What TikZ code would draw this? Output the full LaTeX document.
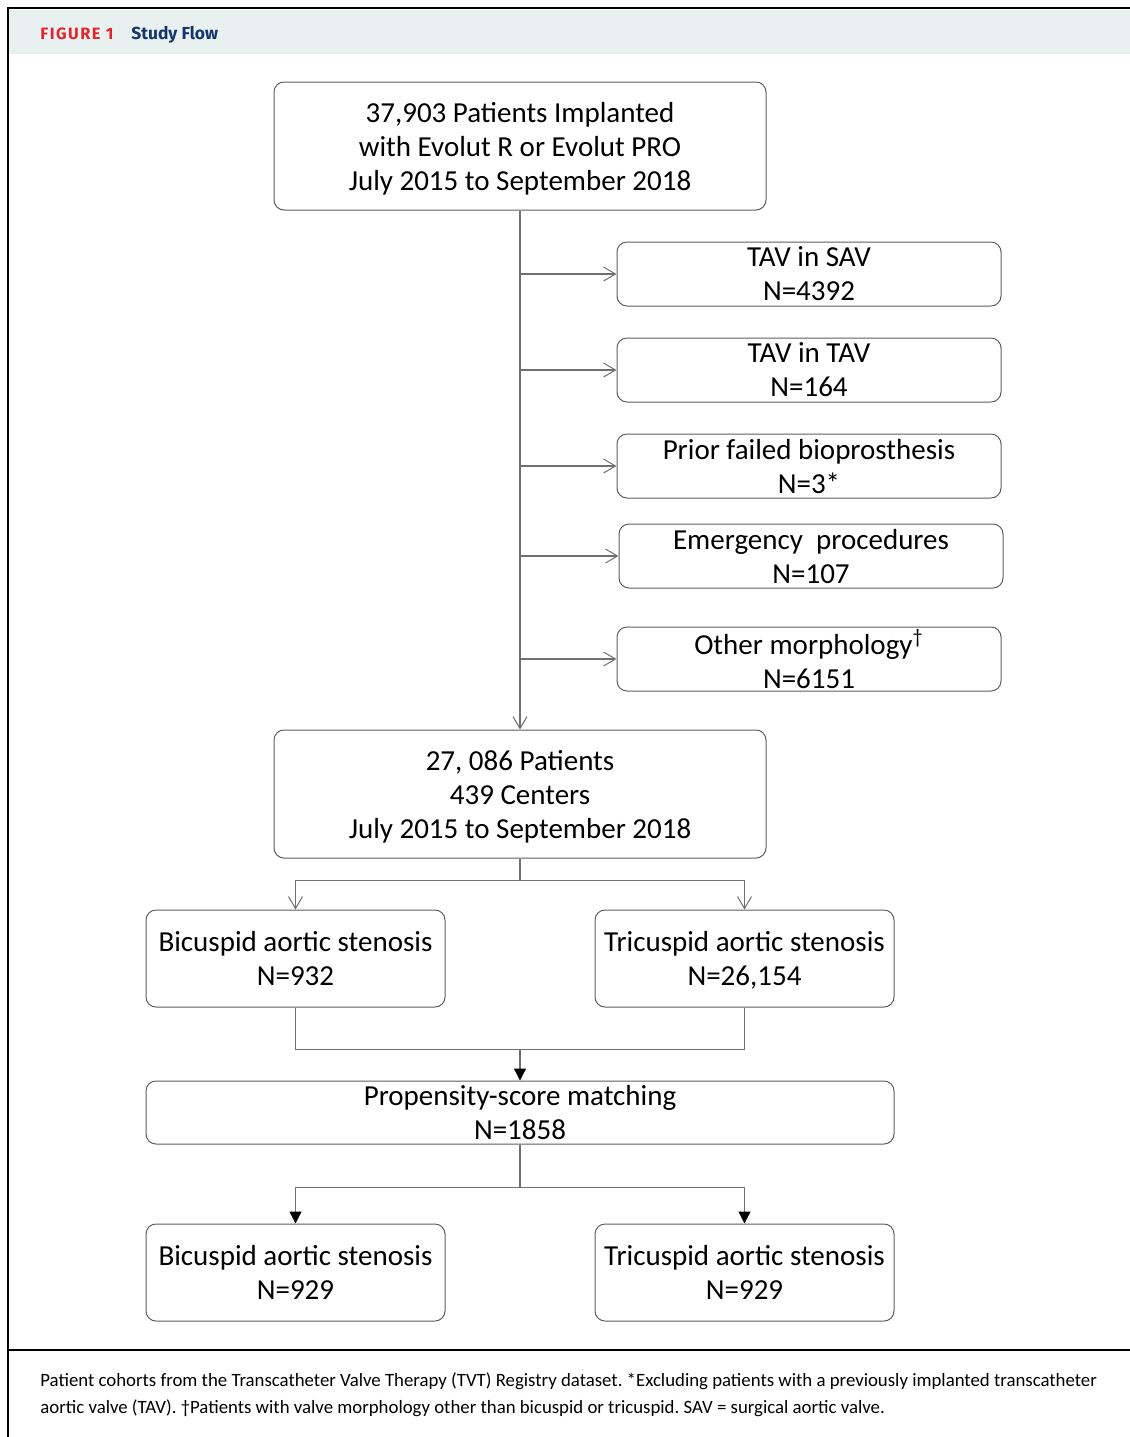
\documentclass[tikz,border=0pt]{standalone}
\usepackage{fontspec}
\setmainfont{Carlito}
\newfontfamily\headfont{Fira Sans}
\usetikzlibrary{arrows.meta}
\definecolor{figred}{HTML}{E0252F}
\definecolor{navy}{HTML}{14366B}
\definecolor{band}{HTML}{E8F1F0}
\definecolor{linegray}{HTML}{707070}
\definecolor{boxgray}{HTML}{5E5E5E}
\frenchspacing
\begin{document}
\begin{tikzpicture}[
  x=0.5pt, y=-0.5pt,
  box/.style={draw=boxgray, line width=0.5pt, rounded corners=5pt, align=center, inner sep=0pt, text depth=0pt, font=\fontsize{14.5}{17}\selectfont},
  bigbox/.style={box, minimum width=246pt, minimum height=64pt},
  sidebox/.style={box, minimum width=192pt, minimum height=32pt},
  armbox/.style={box, minimum width=149.5pt, minimum height=48.5pt},
  link/.style={draw=linegray, line width=0.6pt},
  openarrow/.style={link, -{Straight Barb[length=6pt, width=7pt, line width=0.5pt]}},
  fullarrow/.style={link, -{Triangle[length=6pt, width=6pt, color=black]}}
]
\useasboundingbox (0,0) rectangle (1130,1437);

% frame and header
\fill[band] (9,10) rectangle (1130,54);
\draw[line width=1pt] (8,1437) -- (8,8) -- (1130,8);
\draw[line width=1pt] (8,1350) -- (1130,1350);
\node[anchor=base west, inner sep=0pt, text=figred, font=\headfont\bfseries\fontsize{8.2}{10}\selectfont] (figno) at (40,39) {\addfontfeature{LetterSpace=9}FIGURE 1};
\node[anchor=base west, inner sep=0pt, text=navy, font=\headfont\bfseries\fontsize{8.7}{10}\selectfont] (title) at (131,39) {Study Flow};

% boxes
\node[bigbox] (implanted) at (520,146) {37,903 Patients Implanted\\with Evolut R or Evolut PRO\\July 2015 to September 2018};
\node[sidebox] (sav) at (809,274) {TAV in SAV\\N=4392};
\node[sidebox] (tav) at (809,370) {TAV in TAV\\N=164};
\node[sidebox] (prior) at (809,466) {Prior failed bioprosthesis\\N=3*};
\node[sidebox] (emerg) at (811,556) {Emergency\ \ procedures\\N=107};
\node[sidebox] (other) at (809,659) {Other morphology\textsuperscript{\textdagger}\\N=6151};
\node[bigbox] (cohort) at (520,794) {27, 086 Patients\\439 Centers\\July 2015 to September 2018};
\node[armbox] (bicus) at (295.5,958.5) {Bicuspid aortic stenosis\\N=932};
\node[armbox] (tricus) at (744.5,958.5) {Tricuspid aortic stenosis\\N=26,154};
\node[box, minimum width=374pt, minimum height=31.5pt] (psm) at (520,1112.5) {Propensity-score matching\\N=1858};
\node[armbox] (bicmatch) at (295.5,1272.5) {Bicuspid aortic stenosis\\N=929};
\node[armbox] (trimatch) at (744.5,1272.5) {Tricuspid aortic stenosis\\N=929};

% exclusions
\draw[openarrow] (implanted.south) -- (cohort.north);
\draw[openarrow] (implanted.south |- sav.west) -- (sav.west);
\draw[openarrow] (implanted.south |- tav.west) -- (tav.west);
\draw[openarrow] (implanted.south |- prior.west) -- (prior.west);
\draw[openarrow] (implanted.south |- emerg.west) -- (emerg.west);
\draw[openarrow] (implanted.south |- other.west) -- (other.west);

% split by morphology
\path (cohort.south) ++(0,22) coordinate (split);
\draw[link] (cohort.south) -- (split);
\draw[openarrow] (split) -| (bicus.north);
\draw[openarrow] (split) -| (tricus.north);

% matching
\path (psm.north) ++(0,-31) coordinate (merge);
\draw[link] (bicus.south) |- (merge);
\draw[link] (tricus.south) |- (merge);
\draw[fullarrow] (merge) -- (psm.north);

\path (psm.south) ++(0,43) coordinate (split2);
\draw[link] (psm.south) -- (split2);
\draw[fullarrow] (split2) -| (bicmatch.north);
\draw[fullarrow] (split2) -| (trimatch.north);

% caption
\node[anchor=base west, inner sep=0pt, font=\fontsize{9.4}{11}\selectfont] (cap1) at (40,1386) {Patient cohorts from the Transcatheter Valve Therapy (TVT) Registry dataset. *Excluding patients with a previously implanted transcatheter};
\node[anchor=base west, inner sep=0pt, font=\fontsize{9.4}{11}\selectfont] (cap2) at (40,1413) {aortic valve (TAV). \textdagger Patients with valve morphology other than bicuspid or tricuspid. SAV = surgical aortic valve.};
\end{tikzpicture}
\end{document}
